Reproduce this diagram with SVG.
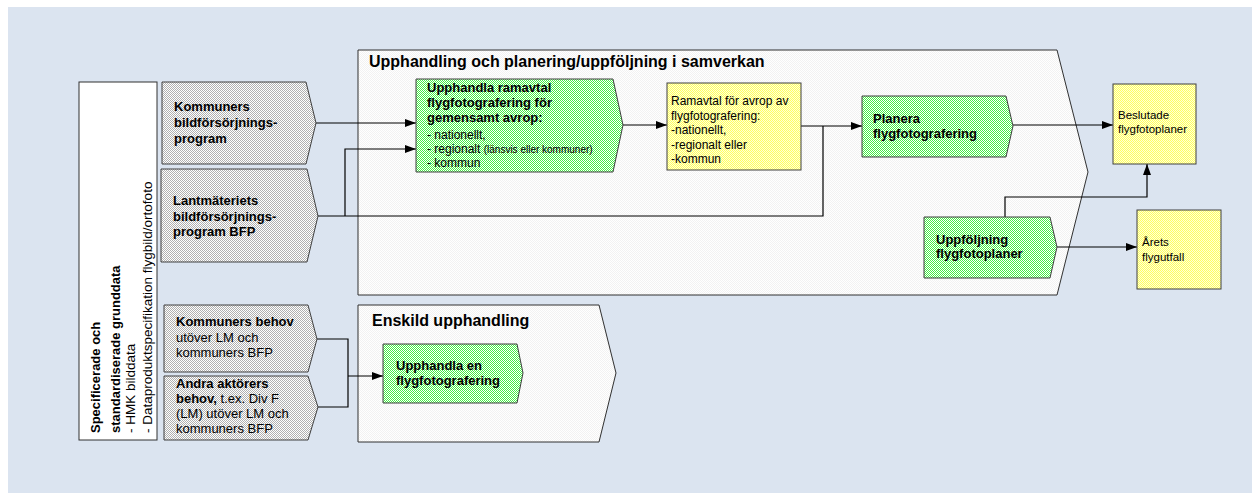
<svg xmlns="http://www.w3.org/2000/svg" width="1252" height="494" viewBox="0 0 1252 494">
<defs>
<pattern id="pGrey" width="2" height="2" patternUnits="userSpaceOnUse"><rect width="2" height="2" fill="#ffffff"/><rect width="1" height="1" fill="#b0b0b0"/><rect x="1" y="1" width="1" height="1" fill="#b0b0b0"/></pattern>
<pattern id="pGreen" width="2" height="2" patternUnits="userSpaceOnUse"><rect width="2" height="2" fill="#ffffff"/><rect width="1" height="1" fill="#44ee44"/><rect x="1" y="1" width="1" height="1" fill="#44ee44"/></pattern>
<pattern id="pYellow" width="2" height="2" patternUnits="userSpaceOnUse"><rect width="2" height="2" fill="#ffffd8"/><rect width="1" height="1" fill="#ffff60"/><rect x="1" y="1" width="1" height="1" fill="#ffff60"/></pattern>
<pattern id="pCont" width="2" height="2" patternUnits="userSpaceOnUse"><rect width="2" height="2" fill="#ffffff"/><rect width="1" height="1" fill="#f2f2f2"/><rect x="1" y="1" width="1" height="1" fill="#f2f2f2"/></pattern>
<marker id="arr" markerUnits="userSpaceOnUse" markerWidth="11" markerHeight="8" refX="11" refY="4" orient="auto"><path d="M0,0 L11,4 L0,8 z" fill="#000"/></marker>
</defs>
<style>
text{font-family:"Liberation Sans",Arial,sans-serif;fill:#000}
.b{font-weight:bold;font-size:13px}
.r{font-size:12px}
.g{font-size:13px}
.s{font-size:11.5px}
.v{font-size:13.5px}
.t{font-weight:bold;font-size:16px}
.grey{fill:url(#pGrey);stroke:#404040;stroke-width:1}
.green{fill:url(#pGreen);stroke:#404040;stroke-width:1}
.yellow{fill:url(#pYellow);stroke:#404040;stroke-width:1}
.cont{fill:url(#pCont);stroke:#303030;stroke-width:1}
.c{fill:none;stroke:#000;stroke-width:1.2}
.ca{fill:none;stroke:#000;stroke-width:1.2;marker-end:url(#arr)}
</style>
<rect x="8" y="7" width="1244" height="486" fill="#dbe4f0"/>

<g id="spec">
<rect x="79" y="82" width="78" height="358" fill="#ffffff" stroke="#303030" stroke-width="1"/>
<g transform="translate(100,433) rotate(-90)"><text class="b">Specificerade och</text></g>
<g transform="translate(119.5,433) rotate(-90)"><text class="b">standardiserade grunddata</text></g>
<g transform="translate(135,433) rotate(-90)"><text class="v">- HMK bilddata</text></g>
<g transform="translate(151.5,433) rotate(-90)"><text class="v">- Dataproduktspecifikation flygbild/ortofoto</text></g>
</g>

<g id="container-samverkan">
<polygon class="cont" points="358,50 1057,50 1088,172 1057,295 358,295"/>
<text class="t" x="369" y="67">Upphandling och planering/uppföljning i samverkan</text>
</g>
<g id="container-enskild">
<polygon class="cont" points="358,305 599,305 616,373 599,442 358,442"/>
<text class="t" x="372" y="326">Enskild upphandling</text>
</g>

<g id="connectors">
<path class="ca" d="M316,123 H416"/>
<path class="c" d="M318,216 H823 V126"/>
<path class="ca" d="M345,216 V149 H416"/>
<path class="ca" d="M623,125 H667"/>
<path class="ca" d="M801,126 H862"/>
<path class="ca" d="M1013,125 H1113"/>
<path class="ca" d="M1005,217 V197 H1147 V164"/>
<path class="ca" d="M1057,247 H1137"/>
<path class="c" d="M317,339 H348 V407 H318"/>
<path class="ca" d="M348,376 H383"/>
</g>

<g id="kommuners-bfp">
<polygon class="grey" points="162,82 306,82 316,123 306,164 162,164"/>
<text class="b" x="174" y="111">Kommuners</text>
<text class="b" x="174" y="127">bildförsörjnings-</text>
<text class="b" x="174" y="143">program</text>
</g>
<g id="lm-bfp">
<polygon class="grey" points="161,169 307,169 318,216 307,262 161,262"/>
<text class="b" x="173" y="205">Lantmäteriets</text>
<text class="b" x="173" y="221">bildförsörjnings-</text>
<text class="b" x="173" y="236">program BFP</text>
</g>
<g id="kommuners-behov">
<polygon class="grey" points="164,305 308,305 317,339 308,372 164,372"/>
<text class="b" x="176" y="326">Kommuners behov</text>
<text class="g" x="176" y="342">utöver LM och</text>
<text class="g" x="176" y="357">kommuners BFP</text>
</g>
<g id="andra-behov">
<polygon class="grey" points="164,376 308,376 318,407 308,440 164,440"/>
<text class="b" x="176" y="388">Andra aktörers</text>
<text x="176" y="403"><tspan class="b">behov,</tspan><tspan class="g"> t.ex. Div F</tspan></text>
<text class="g" x="176" y="418">(LM) utöver LM och</text>
<text class="g" x="176" y="433">kommuners BFP</text>
</g>

<g id="upphandla-ramavtal">
<polygon class="green" points="416,79 613,79 623,125 613,172 416,172"/>
<text class="b" x="427" y="92">Upphandla ramavtal</text>
<text class="b" x="427" y="107">flygfotografering för</text>
<text class="b" x="427" y="122">gemensamt avrop:</text>
<text class="r" x="427" y="139">- nationellt,</text>
<text x="427" y="153"><tspan class="r">- regionalt </tspan><tspan style="font-size:10px">(länsvis eller kommuner)</tspan></text>
<text class="r" x="427" y="167">- kommun</text>
</g>
<g id="ramavtal">
<rect class="yellow" x="667" y="83" width="134" height="87"/>
<text class="r" x="671" y="105">Ramavtal för avrop av</text>
<text class="r" x="671" y="120">flygfotografering:</text>
<text class="r" x="671" y="134">-nationellt,</text>
<text class="r" x="671" y="149">-regionalt eller</text>
<text class="r" x="671" y="163">-kommun</text>
</g>
<g id="planera">
<polygon class="green" points="862,96 1006,96 1013,126 1006,157 862,157"/>
<text class="b" x="873" y="123">Planera</text>
<text class="b" x="873" y="138">flygfotografering</text>
</g>
<g id="beslutade">
<rect class="yellow" x="1113" y="84" width="83" height="80"/>
<text class="s" x="1118" y="119">Beslutade</text>
<text class="s" x="1118" y="133">flygfotoplaner</text>
</g>
<g id="uppfoljning">
<polygon class="green" points="924,217 1050,217 1057,247 1050,278 924,278"/>
<text class="b" x="936" y="244">Uppföljning</text>
<text class="b" x="936" y="258">flygfotoplaner</text>
</g>
<g id="arets">
<rect class="yellow" x="1137" y="210" width="84" height="79"/>
<text class="s" x="1142" y="246">Årets</text>
<text class="s" x="1142" y="261">flygutfall</text>
</g>
<g id="upphandla-en">
<polygon class="green" points="383,344 517,344 523,373 517,403 383,403"/>
<text class="b" x="396" y="370">Upphandla en</text>
<text class="b" x="396" y="385">flygfotografering</text>
</g>
</svg>
